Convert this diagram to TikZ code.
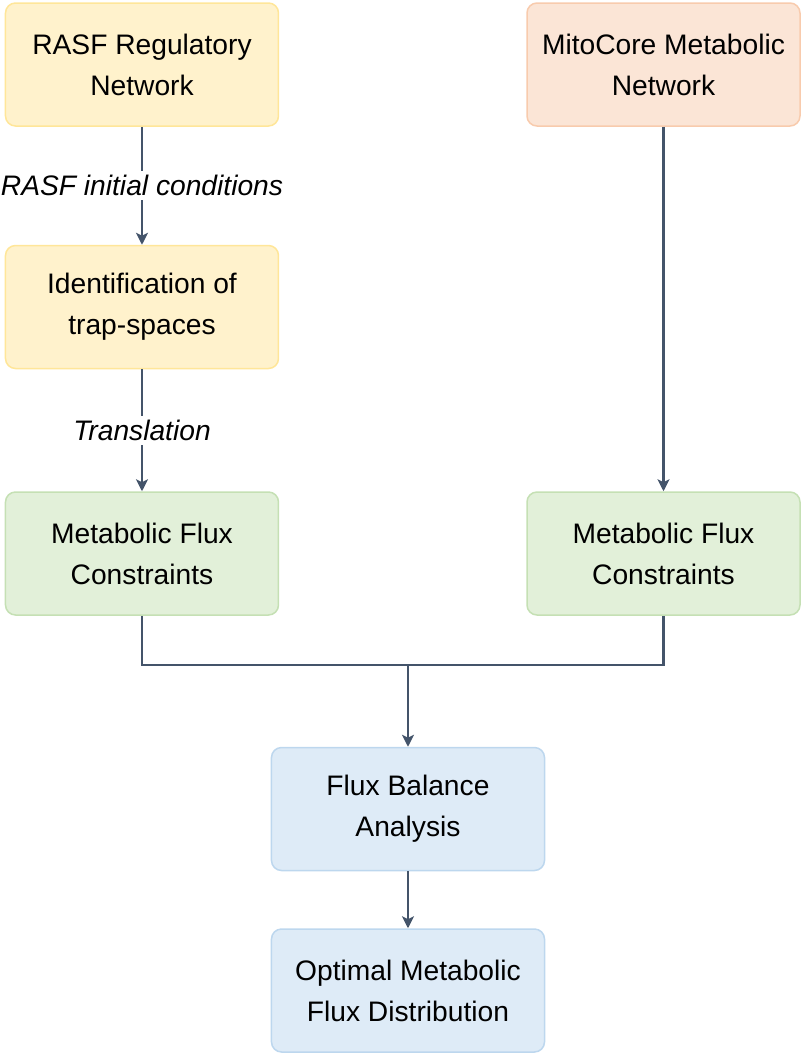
\documentclass[tikz,border=0pt]{standalone}
\usepackage{fontspec}
\setmainfont{Liberation Sans}
\usepackage{xcolor}
\definecolor{REGFILL}{HTML}{FFF2CC}
\definecolor{REGDRAW}{HTML}{FFE699}
\definecolor{METFILL}{HTML}{FBE5D6}
\definecolor{METDRAW}{HTML}{F8CBAD}
\definecolor{FLXFILL}{HTML}{E2F0D9}
\definecolor{FLXDRAW}{HTML}{C5E0B4}
\definecolor{FBAFILL}{HTML}{DEEBF7}
\definecolor{FBADRAW}{HTML}{BDD7EE}
\definecolor{LINECOLOR}{HTML}{44546A}
\usepackage{tikz}
\usetikzlibrary{arrows.meta,positioning}
\tikzset{
  box-style/.style = {
    rectangle, rounded corners=5pt, draw=#1DRAW, line width=0.75pt,
    fill=#1FILL,
    minimum height=61.5pt,
    minimum width=136.5pt,
    inner sep=1pt,
    align=center,
    font=\fontsize{14.1}{20.5}\selectfont
  },
  reg-style/.style = {
    box-style=REG
  },
  met-style/.style = {
    box-style=MET
  },
  flx-style/.style = {
    box-style=FLX
  },
  fba-style/.style = {
    box-style=FBA
  },
  lbl-style/.style = {
    fill=white, text=black, inner sep=2pt,
    font=\fontsize{14.1}{16}\selectfont\itshape
  },
  every edge/.style = {draw, -{Stealth[length=6pt,width=6pt,inset=1.5pt]}, line width=1.25pt, LINECOLOR}
}

\begin{document}
\begin{tikzpicture}
    \useasboundingbox (-71pt,32.25pt) rectangle (329pt,-496.25pt);

    %%% left column
    \node[reg-style] (rasf) {RASF Regulatory\\Network};
    \node[reg-style,below=59pt of rasf] (trap) {Identification of\\trap-spaces};
    \node[flx-style,below=61pt of trap] (flxL) {Metabolic Flux\\Constraints};

    %%% right column
    \node[met-style,right=123.5pt of rasf] (mito) {MitoCore Metabolic\\Network};
    \node[flx-style,right=123.5pt of flxL] (flxR) {Metabolic Flux\\Constraints};

    %%% bottom
    \node[fba-style,below=65.5pt of flxL,xshift=133pt] (fba) {Flux Balance\\Analysis};
    \node[fba-style,below=28.5pt of fba] (opt) {Optimal Metabolic\\Flux Distribution};

    %%% arrows
    \path (rasf) edge node[lbl-style]{RASF initial conditions} (trap);
    \path (trap) edge node[lbl-style]{Translation} (flxL);
    \path (mito) edge (flxR);
    % merge of both constraints
    \coordinate[below=24.5pt of flxL.south] (mrg);
    \draw[line width=1.25pt, LINECOLOR] (flxL.south) -- (mrg) -| (flxR.south);
    \path (fba.north |- mrg) edge (fba.north);
    \path (fba) edge (opt);
\end{tikzpicture}
\end{document}
